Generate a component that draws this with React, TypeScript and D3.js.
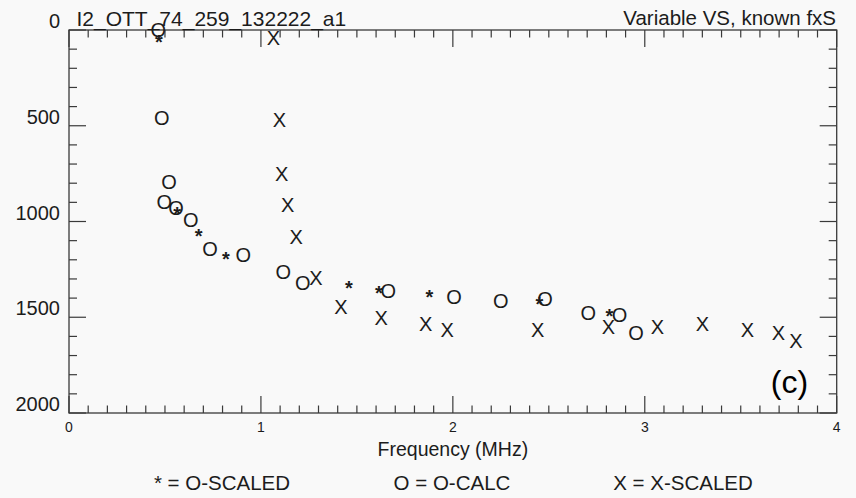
import React from "react";
import * as d3 from "d3";

// O-SCALED (*)
const oScaledFreq = [0.469, 0.564, 0.676, 0.818, 1.458, 1.615, 1.878, 2.451, 2.816];
const oScaledHeight = [38, 936, 1048, 1169, 1319, 1349, 1366, 1406, 1467];

// O-CALC (O)
const oCalcFreq = [0.465, 0.483, 0.521, 0.497, 0.558, 0.634, 0.735, 0.908, 1.117, 1.218, 1.664, 2.006, 2.25, 2.48, 2.706, 2.868, 2.955];
const oCalcHeight = [0, 461, 792, 896, 926, 992, 1140, 1175, 1262, 1321, 1361, 1392, 1415, 1406, 1479, 1488, 1583];

// X-SCALED (X)
const xScaledFreq = [1.065, 1.096, 1.108, 1.14, 1.183, 1.287, 1.417, 1.626, 1.859, 1.971, 2.442, 2.81, 3.066, 3.3, 3.535, 3.696, 3.788];
const xScaledHeight = [43, 470, 752, 914, 1082, 1295, 1445, 1505, 1535, 1566, 1566, 1552, 1549, 1535, 1566, 1580, 1622];

const xMajorTicks = [0, 1, 2, 3, 4];
const yMajorTicks = [0, 500, 1000, 1500, 2000];

const titleLeft = "I2_OTT_74_259_132222_a1";
const titleRight = "Variable VS, known fxS";
const xAxisTitle = "Frequency (MHz)";
const legendItems = ["* = O-SCALED", "O = O-CALC", "X = X-SCALED"];
const panelLabel = "(c)";

const W = 856;
const H = 498;
const FONT = "'Liberation Sans', Arial, Helvetica, sans-serif";
const AXIS = "#3a3a3a";
const INK = "#1c1c1c";

export default function App() {
  const x = d3.scaleLinear().domain([0, 4]).range([69, 836.7]);
  const y = d3.scaleLinear().domain([0, 2000]).range([30, 413]);
  const [x0, x1] = x.range();
  const [y0, y1] = y.range();

  const xMinor = d3.range(0, 41).map((i) => i / 10).filter((v) => !xMajorTicks.includes(v));
  const yMinor = d3.range(0, 21).map((i) => i * 100).filter((v) => !yMajorTicks.includes(v));

  const series = [
    { sym: "*", f: oScaledFreq, h: oScaledHeight, dy: 12, weight: "bold" },
    { sym: "O", f: oCalcFreq, h: oCalcHeight, dy: 7.2, weight: "normal" },
    { sym: "X", f: xScaledFreq, h: xScaledHeight, dy: 7.0, weight: "normal" },
  ];

  const MAJ = 17;
  const MIN = 7.5;
  const legendX = [222, 452, 683];

  return (
    <svg
      width={W}
      height={H}
      style={{ position: "absolute", left: 0, top: 0, display: "block" }}
      fontFamily={FONT}
    >
      <rect x={0} y={0} width={W} height={H} fill="#f9f9f9" />
      {/* frame */}
      <rect x={x0} y={y0} width={x1 - x0} height={y1 - y0} fill="none" stroke={AXIS} strokeWidth={1.3} />
      {/* x ticks top & bottom */}
      {xMajorTicks.map((v) => (
        <g key={"xm" + v}>
          <line x1={x(v)} x2={x(v)} y1={y0} y2={y0 + MAJ} stroke={AXIS} strokeWidth={1.2} />
          <line x1={x(v)} x2={x(v)} y1={y1} y2={y1 - MAJ} stroke={AXIS} strokeWidth={1.2} />
          <text x={x(v)} y={432} fontSize={14} textAnchor="middle" fill={INK}>{v}</text>
        </g>
      ))}
      {xMinor.map((v) => (
        <g key={"xn" + v}>
          <line x1={x(v)} x2={x(v)} y1={y0} y2={y0 + MIN} stroke={AXIS} strokeWidth={1.2} />
          <line x1={x(v)} x2={x(v)} y1={y1} y2={y1 - MIN} stroke={AXIS} strokeWidth={1.2} />
        </g>
      ))}
      {/* y ticks left & right */}
      {yMajorTicks.map((v) => (
        <g key={"ym" + v}>
          <line x1={x0} x2={x0 + MAJ} y1={y(v)} y2={y(v)} stroke={AXIS} strokeWidth={1.2} />
          <line x1={x1} x2={x1 - MAJ} y1={y(v)} y2={y(v)} stroke={AXIS} strokeWidth={1.2} />
          <text x={60} y={Math.max(y(v) - 2, 26)} fontSize={20} textAnchor="end" fill={INK}>{v}</text>
        </g>
      ))}
      {yMinor.map((v) => (
        <g key={"yn" + v}>
          <line x1={x0} x2={x0 + MIN + 0.5} y1={y(v)} y2={y(v)} stroke={AXIS} strokeWidth={1.2} />
          <line x1={x1} x2={x1 - MIN - 0.5} y1={y(v)} y2={y(v)} stroke={AXIS} strokeWidth={1.2} />
        </g>
      ))}
      {/* titles */}
      <text x={76.5} y={25.5} fontSize={21} fill={INK}>{titleLeft}</text>
      <text x={836} y={25} fontSize={20.5} textAnchor="end" fill={INK}>{titleRight}</text>
      <text x={(x0 + x1) / 2} y={456} fontSize={19.5} textAnchor="middle" fill={INK}>{xAxisTitle}</text>
      {legendItems.map((t, i) => (
        <text key={t} x={legendX[i]} y={490} fontSize={20.5} textAnchor="middle" fill={INK}>{t}</text>
      ))}
      <text x={789.5} y={393} fontSize={32} textAnchor="middle" fill="#000">{panelLabel}</text>
      {/* data markers */}
      {series.map((s) =>
        s.f.map((fv, i) => (
          <text
            key={s.sym + i}
            x={x(fv)}
            y={y(s.h[i]) + s.dy}
            fontSize={20}
            fontWeight={s.weight}
            textAnchor="middle"
            fill={INK}
          >
            {s.sym}
          </text>
        ))
      )}
    </svg>
  );
}
